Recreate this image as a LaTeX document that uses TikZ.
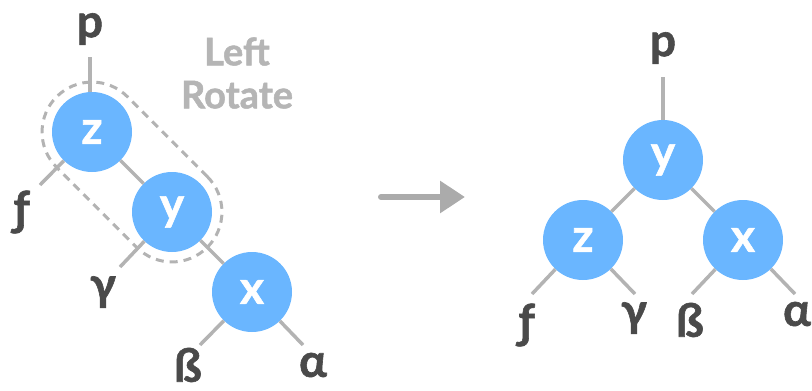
\documentclass[tikz,border=0pt]{standalone}
\usepackage{fontspec}
\setmainfont{Lato}[BoldFeatures={FakeBold=1.3}]
\usetikzlibrary{arrows.meta,calc}
\definecolor{nodeblue}{HTML}{6AB6FF}
\definecolor{edgegray}{HTML}{B3B3B3}
\definecolor{labelgray}{HTML}{4A4A4A}
\definecolor{notegray}{HTML}{B5B5B5}
\definecolor{arrowgray}{HTML}{ABABAB}

\begin{document}
\begin{tikzpicture}[
    x=1pt, y=-1pt,
    rbnode/.style={circle, fill=nodeblue, minimum size=80pt, inner sep=0pt, text=white, font=\fontsize{46}{46}\selectfont\bfseries},
    subtree/.style={inner sep=0pt, text=labelgray, font=\fontsize{46}{46}\selectfont\bfseries},
    link/.style={draw=edgegray, line width=3.5pt}
]
\useasboundingbox (0,0) rectangle (812,391);

% before: z -> y -> x
\node[rbnode] (z) at (92,132) {z};
\node[rbnode] (y) at (172,212) {y};
\node[rbnode] (x) at (252,292) {x};
\node[subtree] (p) at (90,29) {p};
\node[subtree] (f) at (22,212) {ƒ};
\node[subtree] (g) at (103,292) {γ};
\node[subtree] (b) at (188,365) {ß};
\node[subtree] (a) at (313,365) {α};

\coordinate (zp) at (90,57);
\coordinate (zf) at (40,185);
\coordinate (yg) at (120,267);
\coordinate (xb) at (200,345);
\coordinate (xa) at (303,345);

\draw[link] (zp) -- (zp |- z.north);
\draw[link] (z) -- (y) (y) -- (x);
\draw[link] (z) -- (zf) (y) -- (yg) (x) -- (xb) (x) -- (xa);

\node[draw=edgegray, line width=3pt, dash pattern=on 8pt off 6pt, rounded corners=50pt,
      minimum width=213pt, minimum height=100pt, rotate=-45] (pivot) at ($(z)!0.5!(y)$) {};

\node[text=notegray, font=\fontsize{38}{43}\selectfont\bfseries, align=center] (note) at (237,73) {Left\\Rotate};

\coordinate (from) at (381,197);
\coordinate (to) at (465,197);
\draw[arrowgray, line width=6pt, line cap=round, -{Triangle[length=25pt,width=31pt]}] (from) -- (to);

% after: y on top
\node[rbnode] (y2) at (663,160) {y};
\node[rbnode] (z2) at (583,240) {z};
\node[rbnode] (x2) at (743,240) {x};
\node[subtree] (p2) at (663,48) {p};
\node[subtree] (f2) at (527,325) {ƒ};
\node[subtree] (g2) at (634,318) {γ};
\node[subtree] (b2) at (690,320) {ß};
\node[subtree] (a2) at (797,314) {α};

\coordinate (yp2) at (663,77);
\coordinate (zf2) at (532,294);
\coordinate (zg2) at (635,294);
\coordinate (xb2) at (692,294);
\coordinate (xa2) at (795,294);

\draw[link] (yp2) -- (y2);
\draw[link] (y2) -- (z2) (y2) -- (x2);
\draw[link] (z2) -- (zf2) (z2) -- (zg2) (x2) -- (xb2) (x2) -- (xa2);

\end{tikzpicture}
\end{document}
